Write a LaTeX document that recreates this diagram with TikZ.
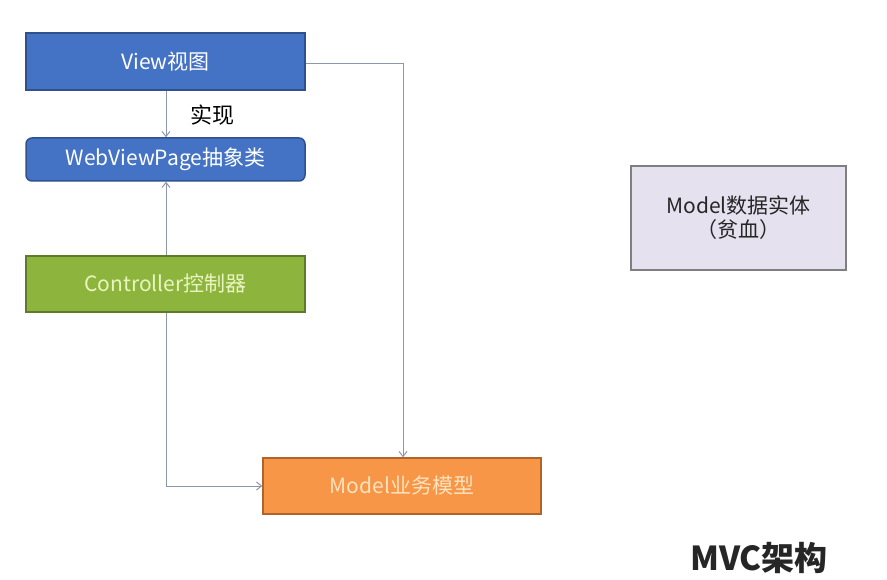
\documentclass[tikz,border=0pt]{standalone}
\usepackage{fontspec}
\setmainfont{Noto Sans CJK SC}
\usetikzlibrary{arrows.meta}
\definecolor{viewblue}{HTML}{4472C4}
\definecolor{viewborder}{HTML}{2F528F}
\definecolor{ctlgreen}{HTML}{8DB53E}
\definecolor{ctlborder}{HTML}{5E7A2A}
\definecolor{ctltext}{HTML}{E8F5C0}
\definecolor{mdlorange}{HTML}{F79646}
\definecolor{mdlborder}{HTML}{B0632A}
\definecolor{mdltext}{HTML}{FDE3C0}
\definecolor{entfill}{HTML}{E6E1EE}
\definecolor{entborder}{HTML}{7F7F7F}
\definecolor{linec}{HTML}{8A98AA}
\tikzset{
  x=1pt,y=-1pt,
  box/.style={draw, line width=1.5pt, minimum width=279pt, inner sep=0pt, font=\fontsize{21}{24}\selectfont},
  conn/.style={draw=linec, line width=1pt, -{Straight Barb[length=5pt,width=8pt]}},
}
\begin{document}
\begin{tikzpicture}
\useasboundingbox (0,0) rectangle (887,580);
\fill[white] (0,0) rectangle (887,580);
\node[box, fill=viewblue, draw=viewborder, text=white, minimum height=57pt] (view) at (165.5,61.5) {View视图};
\node[box, fill=viewblue, draw=viewborder, text=white, minimum height=43pt, rounded corners=6pt] (wvp) at (165.5,159.5) {WebViewPage抽象类};
\node[box, fill=ctlgreen, draw=ctlborder, text=ctltext, minimum height=56pt] (ctl) at (165.5,284) {Controller控制器};
\node[box, fill=mdlorange, draw=mdlborder, text=mdltext, minimum height=56pt, minimum width=278pt] (mdl) at (402,486) {Model业务模型};
\node[draw=entborder, line width=1.5pt, fill=entfill, minimum width=215pt, minimum height=104pt, align=center, font=\fontsize{21}{24}\selectfont, text=black!85] (ent) at (738.5,218) {Model数据实体\\（贫血）};
\node[font=\fontsize{33}{36}\bfseries\selectfont, anchor=base, text=black!85] (title) at (759,570) {MVC架构};
\node[font=\fontsize{22}{26}\selectfont] (impl) at (212,115) {实现};
\coordinate (c1) at (166,486);
\coordinate (v1) at (403,64);
\draw[conn] (view.south -| 166,0) -- (wvp.north -| 166,0);
\draw[conn] (ctl.north -| 166,0) -- (wvp.south -| 166,0);
\draw[conn] (ctl.south -| 166,0) -- (c1) -- (mdl.west);
\draw[conn] (view.east |- v1) -- (v1) -- (mdl.north -| v1);
\end{tikzpicture}
\end{document}
